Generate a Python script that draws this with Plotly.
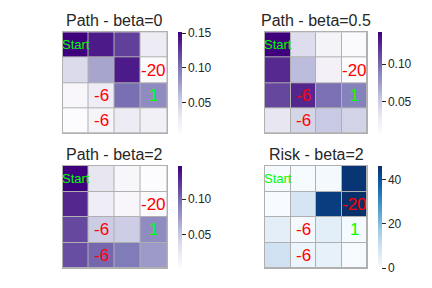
import plotly.graph_objects as go

titles = ["Path - beta=0", "Path - beta=0.5", "Path - beta=2", "Risk - beta=2"]

path_beta0 = [
    [0.151, 0.139, 0.122, 0.026],
    [0.041, 0.073, 0.139, 0.009],
    [0.012, 0.025, 0.102, 0.087],
    [0.006, 0.015, 0.026, 0.020],
]
path_beta05 = [
    [0.143, 0.038, 0.017, 0.010],
    [0.125, 0.058, 0.019, 0.007],
    [0.113, 0.126, 0.097, 0.089],
    [0.030, 0.044, 0.051, 0.045],
]
path_beta2 = [
    [0.147, 0.027, 0.009, 0.002],
    [0.129, 0.020, 0.008, 0.003],
    [0.114, 0.047, 0.046, 0.083],
    [0.112, 0.102, 0.093, 0.075],
]
risk_beta2 = [
    [0.5, 0.5, 0.6, 45.0],
    [0.0, 7.8, 43.7, 46.0],
    [4.6, 0.8, 4.8, 0.5],
    [9.0, 2.3, 3.6, 0.3],
]

panels = [path_beta0, path_beta05, path_beta2, risk_beta2]
scales = ["Purples", "Purples", "Purples", "Blues"]
cbar_ticks = [[0.05, 0.10, 0.15], [0.05, 0.10], [0.05, 0.10], [0, 20, 40]]
cbar_fmt = [".2f", ".2f", ".2f", "d"]

# cell labels: (row, col, text, color, size)
cell_labels = [
    (0, 0, "Start", "#00ff00", 13),
    (1, 3, "-20", "#ff0000", 17),
    (2, 1, "-6", "#ff0000", 17),
    (3, 1, "-6", "#ff0000", 17),
    (2, 3, "1", "#00ff00", 17),
]

# page body has an 8px default margin; figure is sized/positioned to compensate
OFF = 8
W, H = 432 - OFF, 288 - OFF


def px_x(a, b):
    return [(a - OFF) / W, (b - OFF) / W]


def px_y(top, bottom):
    return [1 - (bottom - OFF) / H, 1 - (top - OFF) / H]


xdoms = [px_x(62.5, 167), px_x(265, 367.3), px_x(62.5, 167), px_x(265, 367.3)]
ydoms = [px_y(32.3, 133.3), px_y(32.3, 133.3), px_y(166, 268.3), px_y(166, 268.3)]
cbar_x = [(177.5 - OFF) / W, (378 - OFF) / W, (177.5 - OFF) / W, (378 - OFF) / W]

FONT = "Liberation Sans, Arial, sans-serif"
TXT = "#262626"
GRID = "#b0b0b0"

fig = go.Figure()
annotations = []
layout = {}
for i, z in enumerate(panels):
    k = "" if i == 0 else str(i + 1)
    xa, ya = "x" + k, "y" + k
    fig.add_trace(go.Heatmap(
        z=z, x=[0, 1, 2, 3], y=[0, 1, 2, 3],
        colorscale=scales[i], xgap=1, ygap=1,
        xaxis=xa, yaxis=ya, hoverinfo="skip",
        colorbar=dict(
            x=cbar_x[i], xanchor="left", xpad=0, ypad=0,
            y=(ydoms[i][0] + ydoms[i][1]) / 2, yanchor="middle",
            len=ydoms[i][1] - ydoms[i][0], lenmode="fraction",
            thickness=4, outlinewidth=0,
            ticks="outside", ticklen=4, tickwidth=1, tickcolor=TXT,
            tickvals=cbar_ticks[i], tickformat=cbar_fmt[i],
            tickfont=dict(family=FONT, size=12, color=TXT),
        ),
    ))
    layout["xaxis" + k] = dict(domain=xdoms[i], range=[-0.5, 3.5], anchor=ya,
                               showticklabels=False, showgrid=False, zeroline=False,
                               showline=True, linecolor=GRID, linewidth=1, mirror=True,
                               ticks="", fixedrange=True)
    layout["yaxis" + k] = dict(domain=ydoms[i], range=[3.5, -0.5], anchor=xa,
                               showticklabels=False, showgrid=False, zeroline=False,
                               showline=True, linecolor=GRID, linewidth=1, mirror=True,
                               ticks="", fixedrange=True)
    annotations.append(dict(
        text=titles[i], xref="paper", yref="paper",
        x=(xdoms[i][0] + xdoms[i][1]) / 2, y=ydoms[i][1],
        xanchor="center", yanchor="bottom", yshift=1, showarrow=False,
        font=dict(family=FONT, size=16, color=TXT),
    ))
    for (r, c, t, col, s) in cell_labels:
        annotations.append(dict(
            text=t, xref=xa, yref=ya, x=c, y=r, showarrow=False,
            xanchor="center", yanchor="middle",
            font=dict(family=FONT, size=s, color=col),
        ))

fig.update_layout(
    width=W, height=H, margin=dict(l=0, r=0, t=0, b=0, autoexpand=False),
    paper_bgcolor="white", plot_bgcolor=GRID,
    annotations=annotations, showlegend=False,
    **layout,
)
fig.write_html("out.html")
